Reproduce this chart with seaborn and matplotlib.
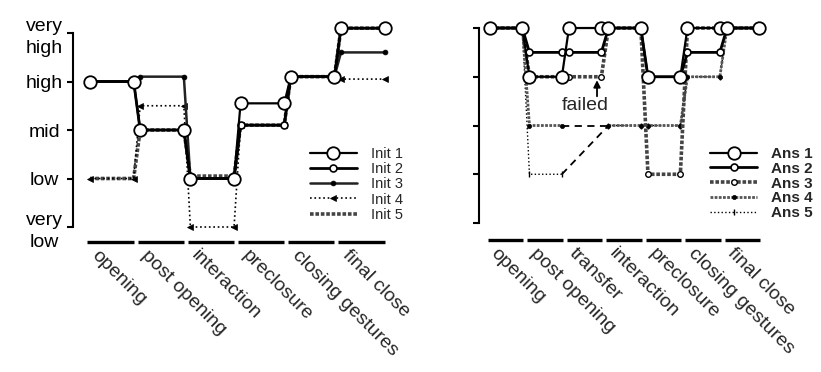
import numpy as np
import pandas as pd
import matplotlib
matplotlib.use("Agg")
import matplotlib.pyplot as plt
import seaborn as sns

sns.set_theme(style="white")
plt.rcParams["font.family"] = ["Liberation Sans", "DejaVu Sans"]

# level scale: 0 very low ... 4 very high
LEVELS = ["very\nlow", "low", "mid", "high", "very\nhigh"]

phases_init = ["opening", "post opening", "interaction", "preclosure",
               "closing gestures", "final close"]
init1 = [3.0, 2.0, 1.0, 2.55, 3.1, 4.1]
init2 = [3.0, 2.0, 1.0, 2.1, 3.1, 4.1]
init3 = [3.0, 3.1, 1.0, 2.1, 3.1, 3.6]
init4 = [1.0, 2.5, 0.0, 2.1, 3.1, 3.05]
init5 = [1.0, 2.0, 1.05, 2.1, 3.1, 4.1]

phases_ans = ["opening", "post opening", "transfer", "interaction",
              "preclosure", "closing gestures", "final close"]
ans1 = [4.0, 3.0, 4.0, 4.0, 3.0, 4.0, 4.0]
ans2 = [4.0, 3.5, 3.5, 4.0, 3.0, 3.5, 4.0]
ans3 = [4.0, 3.0, 3.0, 4.0, 1.0, 4.0, 4.0]
ans4 = [4.0, 2.0, np.nan, 2.0, 2.0, 3.0, 4.0]
ans5 = [4.0, 1.0, np.nan, 2.0, 2.0, 3.0, 4.0]

HATCH = (0, (1.0, 0.5))

init_styles = {
    "Init 1": dict(color="black", lw=1.6, marker="o", ms=9, mfc="white", mec="black", mew=1.3),
    "Init 2": dict(color="black", lw=2.0, marker="o", ms=5, mfc="white", mec="black", mew=1.2),
    "Init 3": dict(color="#222222", lw=1.8, marker="o", ms=3.5, mfc="black", mec="black", mew=0.5),
    "Init 4": dict(color="black", lw=1.2, ls=":", marker="<", ms=4, mfc="black", mec="black", mew=0.5),
    "Init 5": dict(color="#444444", lw=2.6, ls=HATCH, marker="None"),
}
ans_styles = {
    "Ans 1": dict(color="black", lw=1.6, marker="o", ms=9, mfc="white", mec="black", mew=1.3),
    "Ans 2": dict(color="black", lw=2.0, marker="o", ms=5, mfc="white", mec="black", mew=1.2),
    "Ans 3": dict(color="#444444", lw=2.6, ls=HATCH, marker="o", ms=4, mfc="white", mec="black", mew=1.0),
    "Ans 4": dict(color="#555555", lw=2.0, ls=HATCH, marker="o", ms=3, mfc="black", mec="black", mew=0.5),
    "Ans 5": dict(color="black", lw=1.0, ls=":", marker="|", ms=5, mfc="black", mec="black", mew=1.0),
}


def step_frame(values, width):
    rows = []
    for i, v in enumerate(values):
        rows.append((i, v))
        rows.append((i + width, v))
    return pd.DataFrame(rows, columns=["x", "y"])


def draw_series(ax, values, width, name, style):
    df = step_frame(values, width)
    runs, cur = [], []
    for _, r in df.iterrows():
        if np.isnan(r["y"]):
            if cur:
                runs.append(pd.DataFrame(cur))
                cur = []
        else:
            cur.append(r)
    if cur:
        runs.append(pd.DataFrame(cur))
    for k, run in enumerate(runs):
        sns.lineplot(data=run, x="x", y="y", ax=ax, errorbar=None,
                     label=name if k == 0 else None, **style)
        if k > 0:
            # missing phase -> dashed link
            prev = runs[k - 1]
            gap = pd.DataFrame({"x": [prev["x"].iloc[-1], run["x"].iloc[0]],
                                "y": [prev["y"].iloc[-1], run["y"].iloc[0]]})
            sns.lineplot(data=gap, x="x", y="y", ax=ax, errorbar=None,
                         color="black", lw=1.3, ls=(0, (4, 3)))


def decorate(ax, phases, bar_y, lab_y, lab_dx, bar_w, show_labels):
    n = len(phases)
    idx = np.arange(n)
    ax.hlines([bar_y] * n, idx - 0.05, idx + bar_w, colors="black", lw=2.4,
              capstyle="butt", clip_on=False)
    for i, name in enumerate(phases):
        ax.text(i + lab_dx, lab_y, name, rotation=-45, rotation_mode="anchor",
                ha="left", va="top", fontsize=14, clip_on=False)
    ax.set_xticks([])
    ax.set_xlabel("")
    ax.set_ylabel("")
    ax.set_yticks(range(5))
    if show_labels:
        ax.set_yticklabels(LEVELS, ha="center", fontsize=14, linespacing=1.35)
    else:
        ax.set_yticklabels([])
    ax.tick_params(axis="y", left=True, length=4, width=1.5, pad=16.5,
                   direction="out", colors="black")
    for s in ["top", "right", "bottom"]:
        ax.spines[s].set_visible(False)
    ax.spines["left"].set_bounds(0, 4)
    ax.spines["left"].set_linewidth(1.5)
    ax.spines["left"].set_color("black")


fig = plt.figure(figsize=(8.21, 3.72), dpi=100)

ax1 = fig.add_axes([0.0888, 0.3637, 0.3999, 0.5997])
init_vals = {"Init 1": init1, "Init 2": init2, "Init 3": init3, "Init 4": init4, "Init 5": init5}
for name in ["Init 5", "Init 4", "Init 3", "Init 2", "Init 1"]:
    draw_series(ax1, init_vals[name], 0.87, name, init_styles[name])
ax1.set_xlim(-0.34, 6.2)
ax1.set_ylim(-0.2, 4.4)
decorate(ax1, phases_init, -0.31, -0.41, 0.2, 0.87, True)
h, l = ax1.get_legend_handles_labels()
order = [l.index(n) for n in init_styles]
ax1.legend([h[i] for i in order], [l[i] for i in order], loc="upper left",
           bbox_to_anchor=(310 / 821, 1 - 147 / 372), bbox_transform=fig.transFigure,
           frameon=False, borderpad=0, borderaxespad=0, handlelength=3.2,
           handletextpad=1.0, labelspacing=0.08, fontsize=10.5)

ax2 = fig.add_axes([0.5833, 0.3743, 0.3936, 0.6028])
ans_vals = {"Ans 1": ans1, "Ans 2": ans2, "Ans 3": ans3, "Ans 4": ans4, "Ans 5": ans5}
for name in ["Ans 5", "Ans 4", "Ans 3", "Ans 2", "Ans 1"]:
    draw_series(ax2, ans_vals[name], 0.82, name, ans_styles[name])
ax2.set_xlim(-0.28, 7.9)
ax2.set_ylim(-0.2, 4.4)
decorate(ax2, phases_ans, -0.35, -0.45, 0.24, 0.84, False)
ax2.text(2.4, 2.42, "failed", ha="center", va="center", fontsize=14)
ax2.annotate("", xy=(2.71, 2.93), xytext=(2.71, 2.6),
             arrowprops=dict(arrowstyle="-|>", color="black", lw=1.3,
                             mutation_scale=10, shrinkA=0, shrinkB=0))
h, l = ax2.get_legend_handles_labels()
order = [l.index(n) for n in ans_styles]
ax2.legend([h[i] for i in order], [l[i] for i in order], loc="upper left",
           bbox_to_anchor=(710 / 821, 1 - 147 / 372), bbox_transform=fig.transFigure,
           frameon=False, borderpad=0, borderaxespad=0, handlelength=3.1,
           handletextpad=0.9, labelspacing=0.05,
           prop={"size": 11, "weight": "bold"})

fig.savefig("out.png", dpi=100)
